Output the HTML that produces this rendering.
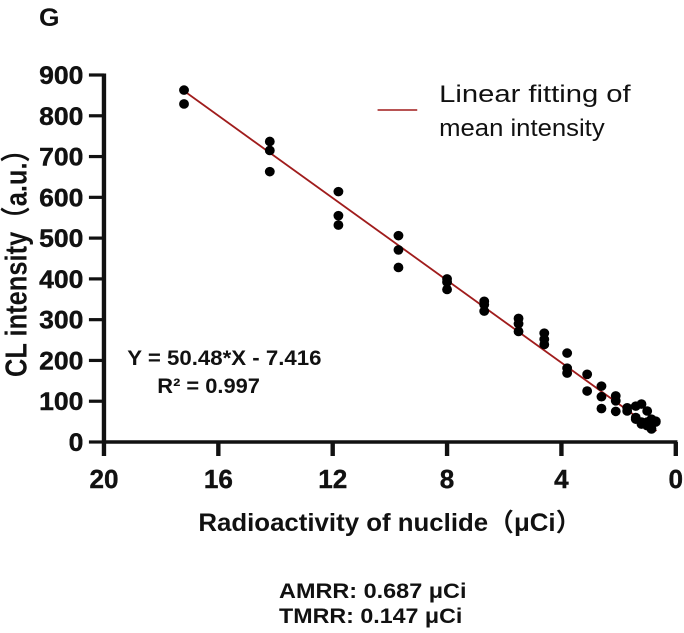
<!DOCTYPE html>
<html><head><meta charset="utf-8"><style>
html,body{margin:0;padding:0;background:#fff;}
svg{display:block;}
text{font-family:"Liberation Sans","Noto Sans CJK SC",sans-serif;fill:#111;}
.b{font-weight:bold;}
</style></head><body>
<svg id="chart" width="684" height="633" viewBox="0 0 500 633" preserveAspectRatio="none" xmlns="http://www.w3.org/2000/svg">
<text class="b" x="28.5" y="26" font-size="25" textLength="15" lengthAdjust="spacingAndGlyphs">G</text>
<g id="axes"></g>
<g id="marks"></g>
<text class="b" font-size="22" transform="translate(19.5,257) rotate(-90)" text-anchor="middle" textLength="240" lengthAdjust="spacingAndGlyphs">CL intensity（a.u.）</text>
<text class="b" font-size="25" x="145" y="531" textLength="280" lengthAdjust="spacingAndGlyphs">Radioactivity of nuclide（μCi）</text>
<line x1="276" y1="110" x2="305" y2="110" stroke="#a01c1c" stroke-width="1.6"/>
<text font-size="24" x="321" y="102" textLength="140" lengthAdjust="spacingAndGlyphs">Linear fitting of</text>
<text font-size="24" x="321" y="136" textLength="121" lengthAdjust="spacingAndGlyphs">mean intensity</text>
<text class="b" font-size="21" x="93" y="365" textLength="142" lengthAdjust="spacingAndGlyphs">Y = 50.48*X - 7.416</text>
<text class="b" font-size="21" x="115" y="393" textLength="75" lengthAdjust="spacingAndGlyphs">R² = 0.997</text>
<text class="b" font-size="21" x="204" y="598" textLength="137" lengthAdjust="spacingAndGlyphs">AMRR:  0.687 μCi</text>
<text class="b" font-size="21" x="204" y="623" textLength="134" lengthAdjust="spacingAndGlyphs">TMRR:  0.147 μCi</text>
</svg>
<script>
const xVals=[17.2,17.2,14.2,14.2,14.2,11.8,11.8,11.8,9.7,9.7,9.7,8.0,8.0,8.0,6.7,6.7,6.7,5.5,5.5,5.5,4.6,4.6,4.6,3.8,3.8,3.8,3.1,3.1,2.6,2.6,2.6,2.1,2.1,2.1,1.7,1.7,1.4,1.4,1.4,1.2,1.2,1.2,1.0,1.0,1.0,0.85,0.85,0.7,0.7];
const yVals=[863,829,737,715,663,614,555,532,506,471,428,400,392,374,345,337,321,303,290,271,267,252,239,218,181,169,166,125,137,111,82,113,101,75,84,76,88,60,56,93,49,44,76,49,40,56,32,51,49];
const fitSlope=50.48, fitIntercept=-7.416;
const fitRange=[17.2,0.68];
const xTicks=[20,16,12,8,4,0];
const yTicks=[0,100,200,300,400,500,600,700,800,900];
const NS="http://www.w3.org/2000/svg";
const X0=76,X1=494,Y0=442,Y1=75;
function sx(v){return X1-(v/20)*(X1-X0);}
function sy(v){return Y0-(v/900)*(Y0-Y1);}
const axes=document.getElementById('axes'),marks=document.getElementById('marks');
function mk(tag,attrs,parent){const e=document.createElementNS(NS,tag);for(const k in attrs)e.setAttribute(k,attrs[k]);parent.appendChild(e);return e;}
let a=mk('line',{x1:X0,y1:Y1-1.5,x2:X0,y2:Y0+1.5,stroke:'#111','stroke-width':3.2},axes);


a=mk('line',{x1:X0-1.2,y1:Y0,x2:X1+1.2,y2:Y0,stroke:'#111','stroke-width':3.4},axes);


yTicks.forEach(t=>{
  const l=mk('line',{x1:65,y1:sy(t),x2:X0,y2:sy(t),stroke:'#111','stroke-width':3.2},axes);
  
  
  const s=String(t);
  const tx=mk('text',{x:61,y:sy(t)+9,'text-anchor':'end','font-size':25,'class':'b',stroke:'#111','stroke-width':0.4,textLength:s.length*10.8,lengthAdjust:'spacingAndGlyphs'},axes);
  tx.textContent=s;
  
  
});
xTicks.forEach(t=>{
  const l=mk('line',{x1:sx(t),y1:Y0,x2:sx(t),y2:Y0+14,stroke:'#111','stroke-width':3.2},axes);
  
  
  const s=String(t);
  const tx=mk('text',{x:sx(t),y:488,'text-anchor':'middle','font-size':26,'class':'b',stroke:'#111','stroke-width':0.4,textLength:s.length*10.6,lengthAdjust:'spacingAndGlyphs'},axes);
  tx.textContent=s;
  
  
});
const fl=mk('line',{x1:sx(fitRange[0]),y1:sy(fitSlope*fitRange[0]+fitIntercept),x2:sx(fitRange[1]),y2:sy(fitSlope*fitRange[1]+fitIntercept),stroke:'#a01c1c','stroke-width':1.6},marks);


xVals.forEach((v,i)=>{
  const c=mk('ellipse',{cx:sx(v),cy:sy(yVals[i]),rx:3.6,ry:4.8,fill:'#000'},marks);
  
  
});
</script>
</body></html>
